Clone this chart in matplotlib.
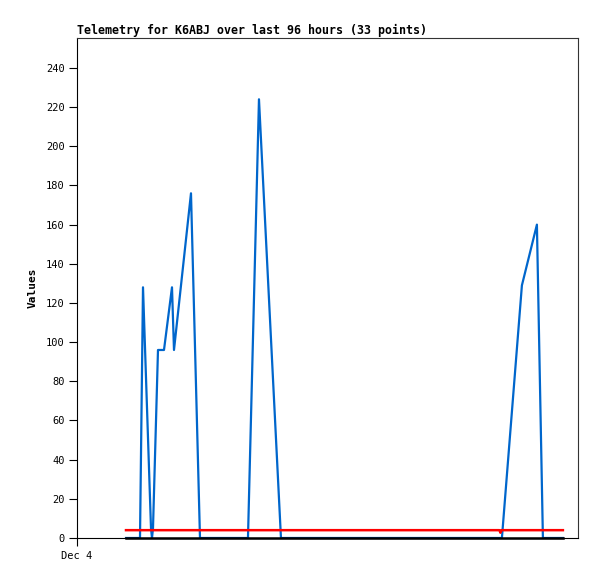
import matplotlib.pyplot as plt
import numpy as np

# hours since Dec 4 00:00
hours = np.array([9.8, 12.6, 13.2, 14.8, 15.0, 15.2, 16.2, 17.4, 19.0, 19.4,
                  22.8, 24.6, 28.0, 31.0, 34.2, 36.4, 40.8, 43.0, 45.0, 50.0,
                  55.0, 60.0, 65.0, 70.0, 75.0, 80.0, 83.0, 85.0, 89.0, 92.0,
                  93.2, 96.0, 97.2])
values = np.array([0, 0, 128, 5, 0, 5, 96, 96, 128, 96,
                   176, 0, 0, 0, 0, 224, 0, 0, 0, 0,
                   0, 0, 0, 0, 0, 0, 0, 0, 129, 160,
                   0, 0, 0])

red_hours = np.array([9.8, 84.5, 84.7, 84.9, 97.2])
red_vals = np.array([4, 4, 2.7, 4, 4])
zero_vals = np.zeros(len(hours))

yticks = [0, 20, 40, 60, 80, 100, 120, 140, 160, 180, 200, 220, 240]

plt.rcParams['font.family'] = 'DejaVu Sans Mono'

fig = plt.figure(figsize=(5.97, 5.79), dpi=100)
ax = fig.add_axes([0.129, 0.0708, 0.839, 0.8636])

ax.plot(hours, values, color='#0066cc', lw=1.6)
ax.plot(red_hours, red_vals, color='#ff0000', lw=1.8)
ax.plot(hours, zero_vals, color='#000000', lw=1.8, clip_on=False)

ax.set_xlim(0, 100.2)
ax.set_ylim(0, 255.3)
ax.set_yticks(yticks)
ax.set_yticklabels([str(t) for t in yticks], fontsize=7.5)
ax.set_xticks([0])
ax.set_xticklabels(['Dec 4'], fontsize=7.5)
ax.tick_params(axis='both', direction='out', length=6, width=0.8, pad=3)

for s in ax.spines.values():
    s.set_linewidth(0.8)
    s.set_color('#333333')
ax.spines['left'].set_color('black')
ax.spines['bottom'].set_color('black')

ax.set_ylabel('Values', fontsize=8, fontweight='bold', labelpad=6)
ax.set_title('Telemetry for K6ABJ over last 96 hours (33 points)',
             loc='left', fontsize=8.4, fontweight='bold', pad=3)

fig.savefig('out.png', dpi=100)
